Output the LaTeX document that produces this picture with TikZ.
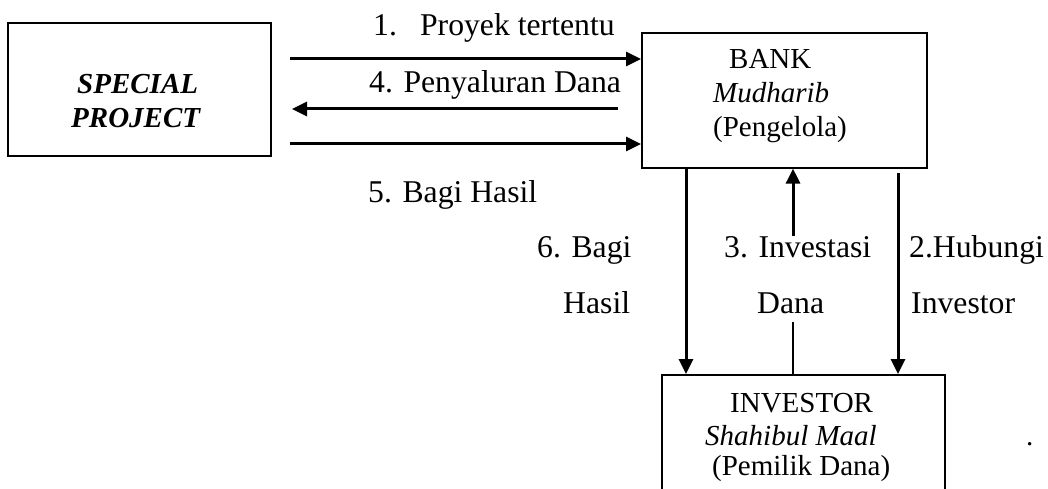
\documentclass[tikz,border=0pt]{standalone}
\usepackage{fontspec}
\setmainfont{Liberation Serif}
\usetikzlibrary{arrows.meta}
\begin{document}
\begin{tikzpicture}[x=1pt,y=-1pt,
  box/.style={draw,line width=1.6pt,inner sep=0pt,anchor=north west},
  arr/.style={line width=3pt,-{Triangle[length=15pt,width=14pt]}},
  thinline/.style={line width=1.2pt},
  lbl/.style={inner sep=0pt,anchor=base west,font=\fontsize{31.7}{38}\selectfont},
  btxt/.style={inner sep=0pt,anchor=base west,font=\fontsize{29}{35}\selectfont}]
\useasboundingbox (0,0) rectangle (1048,489);
\clip (0,0) rectangle (1048,489);
% boxes
\node[box,minimum width=263pt,minimum height=133pt] (spec) at (7,22) {};
\node[box,minimum width=285pt,minimum height=135pt] (bank) at (641,32) {};
\node[box,minimum width=283pt,minimum height=140pt] (inv) at (661,374) {};
% box texts
\node[btxt,font=\fontsize{29}{35}\selectfont\bfseries\itshape] (sp1) at (77,94) {SPECIAL};
\node[btxt,font=\fontsize{29}{35}\selectfont\bfseries\itshape] (sp2) at (71,128) {PROJECT};
\node[btxt] (bk1) at (729,69) {BANK};
\node[btxt,font=\fontsize{29}{35}\selectfont\itshape] (bk2) at (713,103) {Mudharib};
\node[btxt] (bk3) at (713,137) {(Pengelola)};
\node[btxt] (iv1) at (730,412) {INVESTOR};
\node[btxt,font=\fontsize{29}{35}\selectfont\itshape] (iv2) at (705,445) {Shahibul Maal};
\node[btxt] (iv3) at (712,475) {(Pemilik Dana)};
\node[btxt] (dot) at (1026,445) {.};
% horizontal connectors
\coordinate (s1) at (290,59);
\coordinate (s4) at (292,109);
\coordinate (b4) at (618,109);
\coordinate (s5) at (290,144);
\draw[arr] (s1) -- (s1 -| bank.west);
\draw[arr] (b4) -- (s4);
\draw[arr] (s5) -- (s5 -| bank.west);
% vertical connectors
\coordinate (v6) at (686,0);
\draw[arr] (v6 |- bank.south) -- (v6 |- inv.north);
\coordinate (v3a) at (793,236);
\draw[arr] (v3a) -- (v3a |- bank.south);
\coordinate (v3b) at (793,322);
\draw[thinline] (v3b) -- (v3b |- inv.north);
\coordinate (v2) at (898,173);
\draw[arr] (v2) -- (v2 |- inv.north);
% labels
\node[lbl] (l1) at (373,36) {1.\hspace{0.73em}Proyek tertentu};
\node[lbl] (l4) at (369,93) {4. Penyaluran Dana};
\node[lbl] (l5) at (368,202) {5. Bagi Hasil};
\node[lbl] (l6a) at (537,257) {6. Bagi};
\node[lbl] (l6b) at (563,313) {Hasil};
\node[lbl] (l3a) at (724,257) {3. Investasi};
\node[lbl] (l3b) at (757,313) {Dana};
\node[lbl] (l2a) at (909,257) {2.Hubungi};
\node[lbl] (l2b) at (911,313) {Investor};
\end{tikzpicture}
\end{document}
